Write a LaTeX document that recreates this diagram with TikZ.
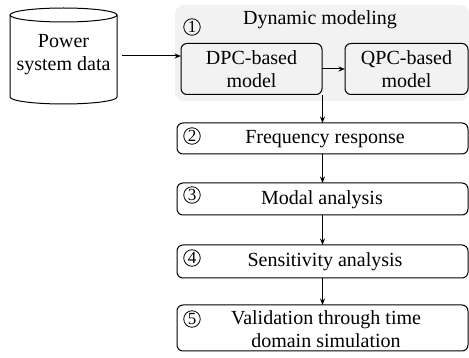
\documentclass[tikz,border=0pt]{standalone}
\usepackage{fontspec}
\setmainfont{Liberation Serif}
\usetikzlibrary{arrows.meta}
\begin{document}
\begin{tikzpicture}[x=1pt,y=-1pt,
  every node/.style={inner sep=0pt, outer sep=0pt},
  stage/.style={draw, line width=1pt, rounded corners=6pt},
  num/.style={draw, circle, line width=0.8pt, minimum size=16.5pt,
    font=\fontsize{17}{17}\selectfont},
  lbl/.style={font=\fontsize{20}{23}\selectfont, align=center},
  flow/.style={line width=1pt, -{Stealth[length=6.5pt,width=5pt]}}
]
\useasboundingbox (0,0) rectangle (469,358);

% shaded group for the dynamic modelling step
\fill[black!5, rounded corners=9pt] (175,5) rectangle (469,101);

% data store (cylinder)
\draw[line width=1pt] (10,15) -- (10,97)
  arc[start angle=180, end angle=0, x radius=53.5, y radius=7] -- (117,15);
\draw[line width=1pt] (63.5,15) ellipse[x radius=53.5, y radius=7];
\node[lbl] (data) at (63.5,55) {Power\\system data};
\coordinate (dataout) at (122,56);

% step 1
\node[num] (n1) at (192,27) {1};
\node[lbl, anchor=center] (t1) at (320,20) {Dynamic modeling};
\node[stage, minimum width=141pt, minimum height=51pt] (dpc) at (251.5,69) {};
\node[lbl] at (dpc) {DPC-based\\model};
\node[stage, minimum width=123pt, minimum height=51pt] (qpc) at (406.5,69) {};
\node[lbl] at (qpc) {QPC-based\\model};
\coordinate (grpout) at (322.5,95);

% steps 2 to 5
\node[stage, minimum width=291pt, minimum height=31pt] (freq) at (322.5,138.5) {};
\node[num] (n2) at (192,136) {2};
\node[lbl] at (325,139) {Frequency response};

\node[stage, minimum width=291pt, minimum height=32pt] (modal) at (322.5,199) {};
\node[num] (n3) at (192,195) {3};
\node[lbl] at (322,200) {Modal analysis};

\node[stage, minimum width=291pt, minimum height=33pt] (sens) at (322.5,261.5) {};
\node[num] (n4) at (192,258) {4};
\node[lbl] at (325,262) {Sensitivity analysis};

\node[stage, minimum width=291pt, minimum height=46pt] (valid) at (322.5,328) {};
\node[num] (n5) at (192,319) {5};
\node[lbl] at (326,329) {Validation through time\\domain simulation};

% connectors
\draw[flow] (dataout) -- (dataout -| dpc.west);
\draw[flow] (dpc.east) -- (qpc.west);
\draw[flow] (grpout) -- (freq.north);
\draw[flow] (freq.south) -- (modal.north);
\draw[flow] (modal.south) -- (sens.north);
\draw[flow] (sens.south) -- (valid.north);
\end{tikzpicture}
\end{document}
